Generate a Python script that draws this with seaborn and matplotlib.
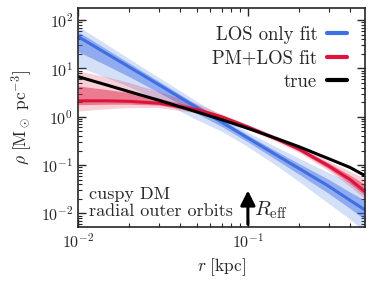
import numpy as np
import pandas as pd
import matplotlib
matplotlib.use("Agg")
import matplotlib.pyplot as plt
import seaborn as sns

# radius grid (kpc) and log10 density
r = [0.01, 0.015, 0.02, 0.03, 0.05, 0.07, 0.1, 0.15, 0.2, 0.3, 0.4, 0.49]

true_log = [0.83, 0.65, 0.52, 0.34, 0.10, -0.06, -0.24, -0.46, -0.62, -0.87, -1.05, -1.22]

los_med = [1.66, 1.29, 1.03, 0.66, 0.19, -0.11, -0.44, -0.81, -1.07, -1.44, -1.73, -1.93]
los_lo1 = [1.35, 1.05, 0.83, 0.50, 0.07, -0.20, -0.52, -0.91, -1.19, -1.59, -1.90, -2.13]
los_hi1 = [1.76, 1.38, 1.11, 0.73, 0.25, -0.05, -0.38, -0.73, -0.97, -1.30, -1.56, -1.73]
los_lo2 = [1.04, 0.80, 0.62, 0.34, -0.06, -0.30, -0.62, -1.03, -1.34, -1.80, -2.12, -2.39]
los_hi2 = [1.87, 1.48, 1.20, 0.81, 0.32, 0.02, -0.32, -0.64, -0.86, -1.16, -1.35, -1.48]

pm_med = [0.33, 0.33, 0.32, 0.28, 0.15, 0.00, -0.21, -0.47, -0.67, -1.02, -1.30, -1.55]
pm_lo1 = [0.25, 0.26, 0.26, 0.24, 0.11, -0.03, -0.24, -0.50, -0.71, -1.08, -1.38, -1.63]
pm_hi1 = [0.64, 0.56, 0.50, 0.38, 0.20, 0.03, -0.18, -0.44, -0.63, -0.96, -1.21, -1.40]
pm_lo2 = [0.12, 0.17, 0.19, 0.19, 0.08, -0.05, -0.26, -0.53, -0.74, -1.12, -1.44, -1.70]
pm_hi2 = [0.95, 0.82, 0.71, 0.52, 0.27, 0.06, -0.16, -0.41, -0.60, -0.92, -1.13, -1.28]

r_eff = 0.1
BLUE = "#3f6fe3"
RED = "#dc143c"

sns.set_style("ticks")
plt.rcParams["font.family"] = ["cmr10", "DejaVu Serif"]
plt.rcParams["mathtext.fontset"] = "cm"
plt.rcParams["axes.formatter.use_mathtext"] = True
plt.rcParams["font.size"] = 11

df = pd.DataFrame({
    "r": r * 3,
    "rho": 10 ** np.array(los_med + pm_med + true_log),
    "model": ["LOS only fit"] * len(r) + ["PM+LOS fit"] * len(r) + ["true"] * len(r),
})

fig, ax = plt.subplots(figsize=(3.74, 2.81), dpi=100)
fig.subplots_adjust(left=0.209, right=0.976, top=0.972, bottom=0.192)

ax.fill_between(r, 10 ** np.array(los_lo2), 10 ** np.array(los_hi2), color=BLUE, alpha=0.22, lw=0)
ax.fill_between(r, 10 ** np.array(los_lo1), 10 ** np.array(los_hi1), color=BLUE, alpha=0.45, lw=0)
ax.fill_between(r, 10 ** np.array(pm_lo2), 10 ** np.array(pm_hi2), color=RED, alpha=0.2, lw=0)
ax.fill_between(r, 10 ** np.array(pm_lo1), 10 ** np.array(pm_hi1), color=RED, alpha=0.45, lw=0)

sns.lineplot(data=df, x="r", y="rho", hue="model",
             palette={"LOS only fit": BLUE, "PM+LOS fit": RED, "true": "black"},
             linewidth=2.2, ax=ax)
ax.lines[-1].set_linewidth(3)

ax.set_xscale("log")
ax.set_yscale("log")
ax.set_xlim(0.01, 0.49)
ax.set_ylim(0.0052, 180)

ax.annotate("", xy=(r_eff, 0.034), xytext=(r_eff, 0.0052),
            arrowprops=dict(arrowstyle="-|>,head_width=0.4,head_length=0.8", color="black", lw=2.2))
ax.text(0.108, 0.0118, r"$R_{\rm eff}$", fontsize=15, va="center", ha="left")
ax.text(0.0116, 0.0078, "cuspy DM\nradial outer orbits", fontsize=13, va="bottom", ha="left",
        linespacing=1.1)

ax.set_xlabel(r"$r\ [{\rm kpc}]$", fontsize=12.5)
ax.set_ylabel(r"$\rho\ [{\rm M_\odot\ pc^{-3}}]$", fontsize=12.5)
ax.tick_params(which="both", direction="in", top=True, right=True, labelsize=11.5)
ax.tick_params(which="major", length=6, width=1)
ax.tick_params(which="minor", length=3, width=0.8)
for s in ax.spines.values():
    s.set_linewidth(1.2)

handles, labels = ax.get_legend_handles_labels()
for h in handles:
    h.set_linewidth(3)
ax.legend(handles, labels, loc="upper right", frameon=False, markerfirst=False,
          handlelength=1.1, handletextpad=0.5, fontsize=13.5, borderaxespad=0.55,
          labelspacing=0.3)

plt.savefig("out.png", dpi=100)
